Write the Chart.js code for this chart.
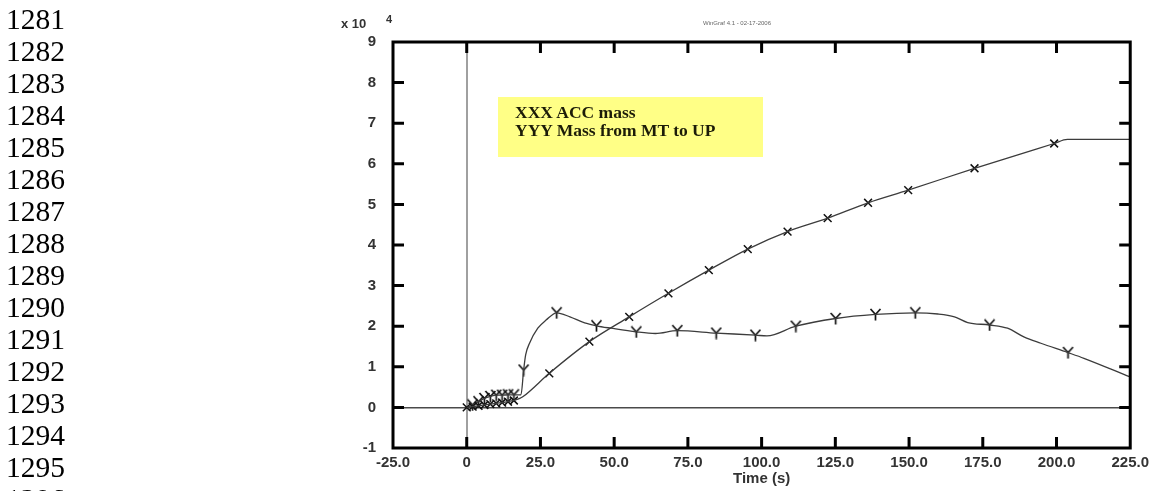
<!DOCTYPE html>
<html>
<head>
<meta charset="utf-8">
<script src="https://cdn.jsdelivr.net/npm/chart.js@4.4.1/dist/chart.umd.min.js"></script>
<style>
  html, body { margin: 0; padding: 0; background: #fff; }
  body { width: 1155px; height: 491px; position: relative; overflow: hidden; }
  #plot { position: absolute; left: 0; top: 0; filter: blur(0.45px); }
  .ln { position: absolute; left: 6px; font-family: "Liberation Serif", "Times New Roman", serif;
        font-size: 29.5px; line-height: 32px; color: #000; }
  .soft { position: absolute; filter: blur(0.45px); font-family: "Liberation Sans", Arial, sans-serif; color: #333; }
  #mult { left: 341px; top: 16px; font-size: 13px; font-weight: bold; line-height: 16px; }
  #mult-exp { left: 386px; top: 12px; font-size: 11px; font-weight: bold; line-height: 14px; }
  #stamp { left: 703px; top: 19px; font-size: 6px; line-height: 8px; color: #666; white-space: nowrap; }
  #keybox { left: 498px; top: 97px; width: 265px; height: 60px; background: #ffff86; box-sizing: border-box;
            padding: 6px 0 0 17px; font-family: "Liberation Serif", "Times New Roman", serif;
            font-size: 17.5px; font-weight: bold; line-height: 18px; color: #1c1c08; white-space: nowrap; }
</style>
</head>
<body>
<canvas id="plot" width="1155" height="491"></canvas>
<div id="mult" class="soft">x 10</div>
<div id="mult-exp" class="soft">4</div>
<div id="stamp" class="soft">WinGraf 4.1 - 02-17-2006</div>
<div id="keybox" class="soft">XXX ACC mass<br>YYY Mass from MT to UP</div>

<script>
// document line numbers down the left margin
const lineNumbers = [1281, 1282, 1283, 1284, 1285, 1286, 1287, 1288, 1289, 1290, 1291, 1292, 1293, 1294, 1295, 1296];

// x axis ticks (s) and y axis ticks (x 10^4)
const timeTicks = [-25, 0, 25, 50, 75, 100, 125, 150, 175, 200, 225];
const massTicks = [-1, 0, 1, 2, 3, 4, 5, 6, 7, 8, 9];

// XXX: ACC mass
const accTime = [0, 2, 4, 6, 8, 10, 12, 14, 16, 18, 19, 28, 41.6, 55.1, 68.4, 82.1, 95.3, 108.8, 122.4, 136.1, 149.7, 172.2, 199.2, 203.7, 225];
const accMass = [0, 0.02, 0.04, 0.06, 0.08, 0.1, 0.12, 0.14, 0.17, 0.22, 0.26, 0.84, 1.62, 2.23, 2.81, 3.38, 3.9, 4.33, 4.66, 5.04, 5.35, 5.89, 6.5, 6.6, 6.6];
const accMarkTimes = [0, 2, 4, 6, 8, 10, 12, 14, 16, 28, 41.6, 55.1, 68.4, 82.1, 95.3, 108.8, 122.4, 136.1, 149.7, 172.2, 199.2];

// YYY: mass from MT to UP
const mtTime = [0, 2, 4, 6, 8, 10, 12, 14, 16, 18, 18.4, 19.3, 20.0, 21.3, 24.1, 26.9, 30.5, 35, 40, 44, 49, 57.5, 64, 71.4, 84.6, 97.9, 101.8, 111.6, 125.1, 138.6, 152.1, 159.8, 165.4, 169.9, 177.3, 183.4, 189.1, 194.7, 203.9, 209.3, 225];
const mtMass = [0, 0.06, 0.14, 0.22, 0.27, 0.3, 0.3, 0.31, 0.31, 0.31, 0.31, 0.92, 1.3, 1.58, 1.95, 2.15, 2.33, 2.23, 2.08, 2.01, 1.95, 1.86, 1.82, 1.89, 1.83, 1.78, 1.76, 2.0, 2.19, 2.29, 2.33, 2.3, 2.23, 2.09, 2.03, 1.95, 1.73, 1.58, 1.35, 1.21, 0.75];
const mtMarkTimes = [2, 4, 6, 8, 10, 12, 14, 16, 19.3, 30.5, 44, 57.5, 71.4, 84.6, 97.9, 111.6, 125.1, 138.6, 152.1, 177.3, 203.9];

lineNumbers.forEach((n, i) => {
  const el = document.createElement('div');
  el.className = 'ln';
  el.style.top = (3 + 32 * i) + 'px';
  el.textContent = n;
  document.body.appendChild(el);
});

const LINE = '#3c3c3c';
const MARK = '#111';
const TICK_LEN = 11;

function pts(t, v) { return t.map((x, i) => ({ x, y: v[i] })); }
function marks(t, v, keep) { return pts(t, v).filter(p => keep.includes(p.x)); }

// "Y" glyph used as point style for the MT->UP series
function yGlyph() {
  const c = document.createElement('canvas');
  c.width = 13; c.height = 13;
  const g = c.getContext('2d');
  g.strokeStyle = MARK;
  g.lineWidth = 1.7;
  g.beginPath();
  g.moveTo(1.5, 1); g.lineTo(6.5, 6.5);
  g.lineTo(11.5, 1);
  g.moveTo(6.5, 6.5); g.lineTo(6.5, 12.5);
  g.stroke();
  return c;
}

// thick box round the plot with inward ticks on all four sides
const framePlugin = {
  id: 'frame',
  afterDraw(chart) {
    const { ctx, chartArea: a, scales: { x, y } } = chart;
    ctx.save();
    ctx.strokeStyle = '#000';
    ctx.lineWidth = 3;
    ctx.beginPath();
    timeTicks.forEach(v => {
      const px = x.getPixelForValue(v);
      if (px <= a.left + 2 || px >= a.right - 2) return;
      ctx.moveTo(px, a.bottom); ctx.lineTo(px, a.bottom - TICK_LEN);
      ctx.moveTo(px, a.top); ctx.lineTo(px, a.top + TICK_LEN);
    });
    massTicks.forEach(v => {
      const py = y.getPixelForValue(v);
      if (py <= a.top + 2 || py >= a.bottom - 2) return;
      ctx.moveTo(a.left, py); ctx.lineTo(a.left + TICK_LEN, py);
      ctx.moveTo(a.right, py); ctx.lineTo(a.right - TICK_LEN, py);
    });
    ctx.stroke();
    ctx.strokeRect(a.left, a.top, a.right - a.left, a.bottom - a.top);
    ctx.restore();
  }
};

const tickFont = { family: '"Liberation Sans", Arial, sans-serif', size: 15, weight: 'bold' };

new Chart(document.getElementById('plot'), {
  type: 'scatter',
  data: {
    datasets: [
      {
        label: 'XXX ACC mass',
        data: pts(accTime, accMass),
        showLine: true,
        borderColor: LINE,
        borderWidth: 1.3,
        pointRadius: 0,
        cubicInterpolationMode: 'monotone'
      },
      {
        label: 'XXX marks',
        data: marks(accTime, accMass, accMarkTimes),
        showLine: false,
        pointStyle: 'crossRot',
        pointRadius: 5.5,
        borderColor: MARK,
        borderWidth: 1.5
      },
      {
        label: 'YYY Mass from MT to UP',
        data: pts(mtTime, mtMass),
        showLine: true,
        borderColor: LINE,
        borderWidth: 1.3,
        pointRadius: 0,
        cubicInterpolationMode: 'monotone'
      },
      {
        label: 'YYY marks',
        data: marks(mtTime, mtMass, mtMarkTimes),
        showLine: false,
        pointStyle: yGlyph(),
        pointRadius: 6
      }
    ]
  },
  options: {
    responsive: false,
    animation: false,
    layout: { padding: { left: 363, top: 42, right: 22, bottom: 0 } },
    plugins: {
      legend: { display: false },
      tooltip: { enabled: false }
    },
    scales: {
      x: {
        type: 'linear',
        min: -25,
        max: 225,
        afterFit: s => { s.height = 43; },
        afterBuildTicks: s => { s.ticks = timeTicks.map(value => ({ value })); },
        border: { display: false },
        grid: {
          drawTicks: false,
          color: c => (c.tick && c.tick.value === 0 ? '#a0a0a0' : 'rgba(0,0,0,0)'),
          lineWidth: 2
        },
        ticks: {
          padding: 6,
          color: '#333',
          font: tickFont,
          maxRotation: 0,
          autoSkip: false,
          callback: v => (v === 0 ? '0' : v.toFixed(1))
        },
        title: {
          display: true,
          text: 'Time (s)',
          color: '#333',
          font: { family: '"Liberation Sans", Arial, sans-serif', size: 15, weight: 'bold' },
          padding: { top: 0, bottom: 3 }
        }
      },
      y: {
        type: 'linear',
        min: -1,
        max: 9,
        afterFit: s => { s.width = 30; },
        afterBuildTicks: s => { s.ticks = massTicks.map(value => ({ value })); },
        border: { display: false },
        grid: {
          drawTicks: false,
          color: c => (c.tick && c.tick.value === 0 ? '#4a4a4a' : 'rgba(0,0,0,0)'),
          lineWidth: 1.4
        },
        ticks: {
          padding: 17,
          color: '#333',
          font: tickFont,
          callback: v => String(v)
        }
      }
    }
  },
  plugins: [framePlugin]
});
</script>
</body>
</html>
